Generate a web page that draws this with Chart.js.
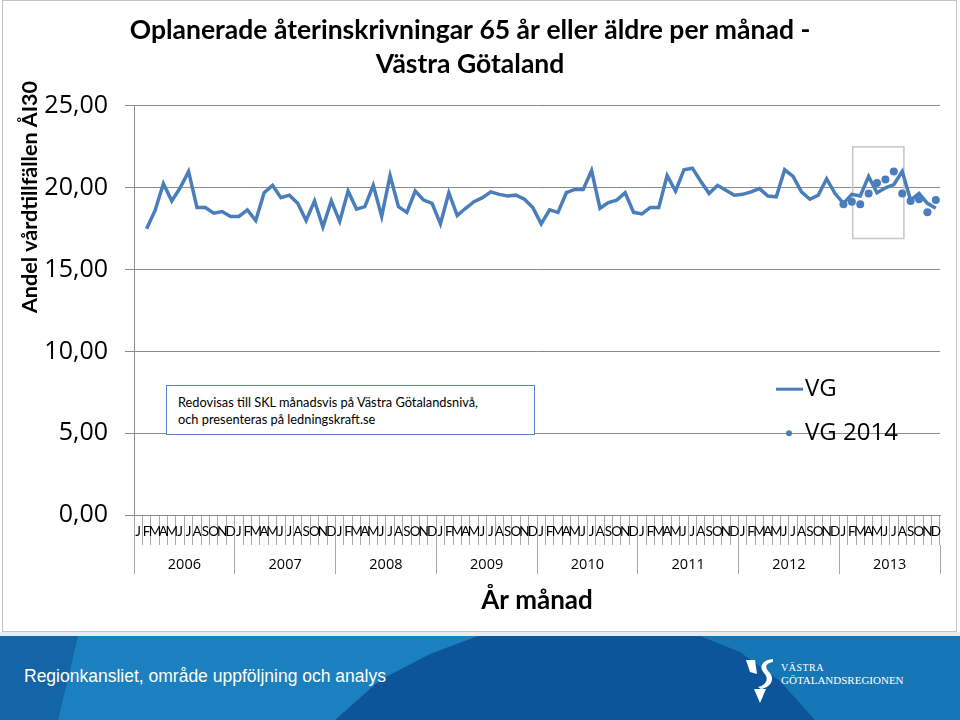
<!DOCTYPE html>
<html lang="sv">
<head>
<meta charset="utf-8">
<title>Oplanerade återinskrivningar 65 år eller äldre</title>
<script src="https://cdn.jsdelivr.net/npm/chart.js@4"></script>
<style>
  html, body { margin: 0; padding: 0; background: #fff; }
  #page { position: relative; width: 960px; height: 720px; overflow: hidden; }
  #frame { position: absolute; left: 2px; top: 0; width: 953px; height: 630px; border: 1px solid #c4c4c4; }
  #chartBox { position: absolute; left: 0; top: 0; width: 960px; height: 632px; }
  #note {
    position: absolute; left: 166px; top: 385px; width: 369px; height: 50px;
    box-sizing: border-box; border: 1px solid #5b86c2; background: #fff;
    padding: 8px 0 0 11px; font-family: Lato, sans-serif; font-size: 12.8px; line-height: 16.5px; color: #000;
  }
  #footer { position: absolute; left: 0; top: 632px; width: 960px; height: 88px; background: #0c559a; overflow: hidden; border-top: 4px solid #e4edf4; box-sizing: border-box; }
  .band { position: absolute; left: 0; top: 0; width: 960px; height: 84px; }
  .b1 { background: #1465a8; clip-path: polygon(0 0, 78px 0, 58px 84px, 0 84px); }
  .b2 { background: #1a80bf; clip-path: polygon(78px 0, 478px 0, 430px 18px, 380px 44px, 335px 84px, 58px 84px); }
  .b3 { background: #1777b6; clip-path: polygon(700px 0, 960px 0, 960px 84px, 815px 84px, 780px 45px, 740px 16px); }
  #footText { position: absolute; left: 24px; top: 30px; color: #fff; font-family: "Liberation Sans", Arial, sans-serif; font-size: 17.5px; }
  #logo { position: absolute; left: 745px; top: 22px; width: 170px; height: 46px; color: #fff; font-family: "Liberation Serif", serif; }
  #logo svg { position: absolute; left: 0; top: 0; }
  #logo .l1 { position: absolute; left: 36px; top: 4px; font-size: 10px; letter-spacing: 0.5px; }
  #logo .l2 { position: absolute; left: 36px; top: 16px; font-size: 11px; }
</style>
</head>
<body>
<div id="page">
  <div id="frame"></div>
  <div id="chartBox"><canvas id="readmitChart" width="960" height="632"></canvas></div>
  <div id="note">Redovisas till SKL månadsvis på Västra Götalandsnivå,<br>och presenteras på ledningskraft.se</div>
  <div id="footer">
    <div class="band b1"></div>
    <div class="band b2"></div>
    <div class="band b3"></div>
    <div id="footText">Regionkansliet, område uppföljning och analys</div>
    <div id="logo">
      <svg width="34" height="46" viewBox="0 0 34 46">
        <polygon points="1,2 10,2 12,16 5,14" fill="#fff"/>
        <path d="M28,1 C16,2 14,10 19,15 C24,20 22,27 13,29 L16,31 C27,29 30,20 24,14 C19,9 21,5 28,4 Z" fill="#fff"/>
        <polygon points="9,31 21,31 15,45" fill="#fff"/>
      </svg>
      <div class="l1">VÄSTRA</div>
      <div class="l2">GÖTALANDSREGIONEN</div>
    </div>
  </div>
</div>
<script>
const monthLetters = ['J', 'F', 'M', 'A', 'M', 'J', 'J', 'A', 'S', 'O', 'N', 'D'];
const years = ['2006', '2007', '2008', '2009', '2010', '2011', '2012', '2013'];

// VG, per month Jan 2006 - Dec 2013 (Jan 2006 missing)
const vg2006 = [null, 17.5, 18.6, 20.25, 19.2, 20.0, 21.0, 18.8, 18.8, 18.45, 18.55, 18.25];
const vg2007 = [18.25, 18.65, 18.0, 19.7, 20.15, 19.4, 19.55, 19.05, 18.0, 19.2, 17.6, 19.2];
const vg2008 = [17.95, 19.8, 18.7, 18.85, 20.15, 18.25, 20.75, 18.85, 18.5, 19.8, 19.25, 19.05];
const vg2009 = [17.8, 19.7, 18.3, 18.75, 19.15, 19.4, 19.75, 19.6, 19.5, 19.55, 19.3, 18.8];
const vg2010 = [17.8, 18.65, 18.5, 19.7, 19.9, 19.9, 21.05, 18.75, 19.1, 19.25, 19.7, 18.5];
const vg2011 = [18.4, 18.8, 18.8, 20.75, 19.8, 21.1, 21.2, 20.4, 19.65, 20.15, 19.85, 19.55];
const vg2012 = [19.6, 19.75, 19.95, 19.5, 19.45, 21.1, 20.7, 19.75, 19.3, 19.55, 20.55, 19.65];
const vg2013 = [19.05, 19.6, 19.5, 20.7, 19.7, 20.0, 20.2, 21.0, 19.25, 19.65, 19.05, 18.75];

// VG 2014, shown on the last year's months
const vg2014 = [19.0, 19.15, 19.0, 19.65, 20.3, 20.5, 21.0, 19.65, 19.2, 19.3, 18.5, 19.25];

const yTicks = [0, 5, 10, 15, 20, 25];

document.addEventListener('DOMContentLoaded', function () {
    const lineColor = '#4a7ebb';
    const gridColor = '#8c8c8c';
    const tickColor = '#a8a8a8';

    const categories = years.flatMap(() => monthLetters);
    const vgSeries = [].concat(vg2006, vg2007, vg2008, vg2009, vg2010, vg2011, vg2012, vg2013);
    const vg2014Series = new Array(categories.length - vg2014.length).fill(null).concat(vg2014);

    // grey frame around part of 2013
    const highlight = { from: 85.1, to: 91.2, low: 16.9, high: 22.5 };

    const extras = {
        id: 'extras',
        beforeDatasetsDraw(chart) {
            const c = chart.ctx, xs = chart.scales.x, ys = chart.scales.y;
            const x1 = xs.getPixelForValue(highlight.from), x2 = xs.getPixelForValue(highlight.to);
            const y1 = ys.getPixelForValue(highlight.high), y2 = ys.getPixelForValue(highlight.low);
            c.save();
            c.strokeStyle = '#c6c6c6';
            c.lineWidth = 1.5;
            c.strokeRect(x1, y1, x2 - x1, y2 - y1);
            c.restore();
        },
        afterDraw(chart) {
            const c = chart.ctx, area = chart.chartArea, ys = chart.scales.y;
            c.save();
            // y axis title, placed high like in the original
            c.translate(30, 197);
            c.rotate(-Math.PI / 2);
            c.font = 'bold 21.5px Lato';
            c.fillStyle = '#000';
            c.textAlign = 'center';
            c.textBaseline = 'middle';
            c.fillText('Andel vårdtillfällen ÅI30', 0, 0);
            c.restore();

            // legend
            const lx = area.right - 164;
            const row2 = ys.getPixelForValue(5);
            const row1 = row2 - 44;
            c.save();
            c.strokeStyle = lineColor;
            c.lineWidth = 3;
            c.beginPath();
            c.moveTo(lx, row1);
            c.lineTo(lx + 27, row1);
            c.stroke();
            c.fillStyle = lineColor;
            c.beginPath();
            c.arc(lx + 13, row2, 3, 0, Math.PI * 2);
            c.fill();
            c.fillStyle = '#000';
            c.font = '24px "Open Sans"';
            c.textBaseline = 'middle';
            c.fillText(chart.data.datasets[1].label, lx + 29, row1);
            c.fillText(chart.data.datasets[0].label, lx + 29, row2);
            c.restore();
        }
    };

    const ctx = document.getElementById('readmitChart').getContext('2d');
    const readmitChart = new Chart(ctx, {
        type: 'line',
        data: {
            labels: categories,
            datasets: [{
                label: 'VG 2014',
                data: vg2014Series,
                showLine: false,
                pointRadius: 4,
                pointBackgroundColor: lineColor,
                pointBorderWidth: 0,
                order: 1
            }, {
                label: 'VG',
                data: vgSeries,
                borderColor: lineColor,
                borderWidth: 3.5,
                pointRadius: 0,
                tension: 0,
                order: 2
            }]
        },
        plugins: [extras],
        options: {
            responsive: false,
            animation: false,
            layout: { padding: { left: 0, right: 20, top: 0, bottom: 13 } },
            scales: {
                x: {
                    offset: true,
                    weight: 0,
                    grid: { offset: true, drawOnChartArea: false, tickLength: 30, color: tickColor },
                    border: { display: true, color: gridColor },
                    ticks: {
                        autoSkip: false, maxRotation: 0, minRotation: 0, padding: -21, color: '#000',
                        font: { family: 'Lato', size: 13.5 }
                    },
                    afterFit: function (scale) { scale.height = 30; }
                },
                x2: {
                    type: 'category',
                    labels: years,
                    position: 'bottom',
                    offset: true,
                    weight: 1,
                    grid: { offset: true, drawOnChartArea: false, tickLength: 29, color: tickColor },
                    border: { display: false },
                    ticks: { padding: -18, color: '#000', font: { family: 'Open Sans', size: 14.5 } },
                    title: {
                        display: true,
                        text: 'År månad',
                        color: '#000',
                        font: { family: 'Lato', size: 26, weight: 'bold' },
                        padding: { top: 0, bottom: 3 }
                    },
                    afterFit: function (scale) { scale.height = 74; }
                },
                y: {
                    min: yTicks[0],
                    max: yTicks[yTicks.length - 1],
                    afterBuildTicks: function (scale) { scale.ticks = yTicks.map(v => ({ value: v })); },
                    grid: { color: gridColor, tickLength: 9 },
                    border: { color: gridColor },
                    ticks: {
                        padding: 17,
                        color: '#000',
                        font: { family: 'Open Sans', size: 25 },
                        callback: function (value) { return value.toFixed(2).replace('.', ','); }
                    },
                    afterFit: function (scale) { scale.width = 134; }
                }
            },
            plugins: {
                legend: { display: false },
                tooltip: { enabled: false },
                title: {
                    display: true,
                    text: ['Oplanerade återinskrivningar 65 år eller äldre per månad -', 'Västra Götaland'],
                    color: '#000',
                    font: { family: 'Lato', size: 26.5, weight: 'bold', lineHeight: 1.283 },
                    padding: { top: 13, bottom: 25 }
                }
            }
        }
    });
});
</script>
</body>
</html>
